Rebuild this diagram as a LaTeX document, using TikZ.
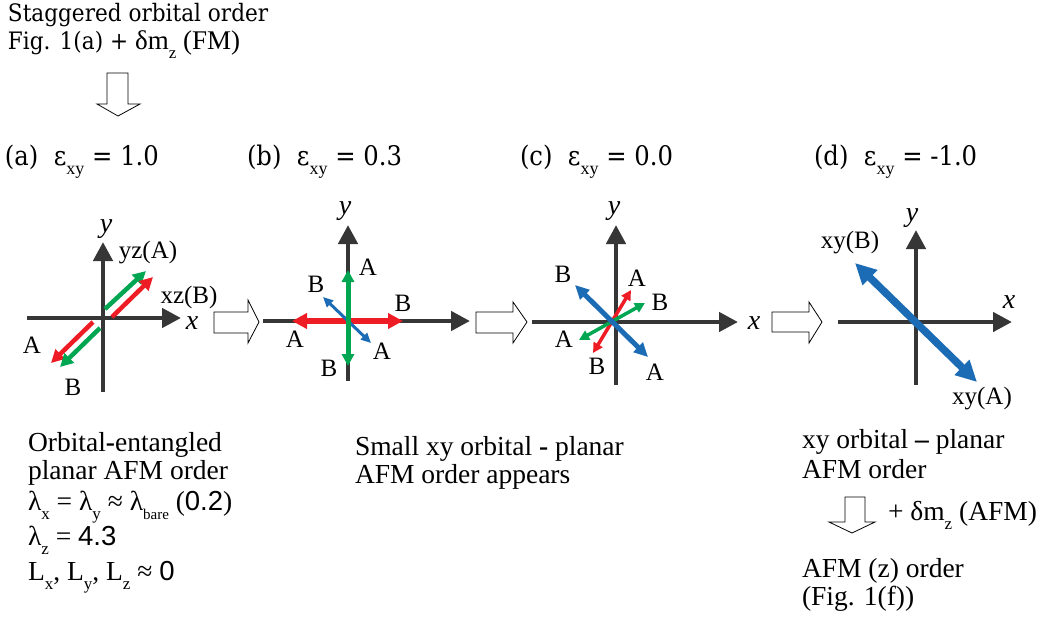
\documentclass[tikz,border=0pt]{standalone}
\usepackage{fontspec}
\setmainfont{Liberation Serif}
\newfontfamily\dvs[FakeStretch=0.9]{DejaVu Serif}
\newfontfamily\lsans{Liberation Sans}
\usetikzlibrary{arrows.meta}
\definecolor{axgray}{HTML}{363636}
\definecolor{ored}{HTML}{EE1C24}
\definecolor{ogreen}{HTML}{00A651}
\definecolor{oblue}{HTML}{1B6CB5}
\newcommand\lo[2][17]{\raisebox{-9pt}{\fontsize{#1}{#1}\selectfont\rmfamily #2}}
\tikzset{
  every node/.style={inner sep=0pt, outer sep=0pt},
  txt/.style={anchor=base west, font=\fontsize{27.5}{33}\selectfont},
  hdr/.style={anchor=base west, font=\dvs\fontsize{27}{31}\selectfont},
  toptext/.style={anchor=base west, font=\dvs\fontsize{24}{28}\selectfont},
  lbl/.style={font=\fontsize{25}{28}\selectfont},
  axlbl/.style={font=\itshape\fontsize{28}{30}\selectfont},
  axisarrow/.style={line width=4.5pt, draw=axgray, -{Triangle[length=19pt,width=19pt]}},
  axisline/.style={line width=4.5pt, draw=axgray},
  hollowarrow/.style={draw=black, line width=0.8pt, fill=white},
  sgl/.style n args={3}{line width=#1, -{Triangle[length=#2,width=#3]}},
  dbl/.style n args={3}{line width=#1, {Triangle[length=#2,width=#3]}-{Triangle[length=#2,width=#3]}},
}
\begin{document}
\begin{tikzpicture}[x=1pt,y=-1pt]
\path[use as bounding box] (0,0) rectangle (1045,619);

% ---------- top text ----------
\node[toptext] (t1) at (8,21) {Staggered orbital order};
\node[toptext] (t2) at (8,49) {Fig. 1(a) + {\rmfamily\fontsize{27}{30}\selectfont δm\lo[17]{z} (FM)}};
\draw[hollowarrow] (107,73) -- (128,73) -- (128,104) -- (140,104) -- (118,116) -- (97,104) -- (107,104) -- cycle;

% ---------- headers ----------
\node[hdr] (ha) at (5,165) {(a)\ \ ε\lo[18]{xy} = 1.0};
\node[hdr] (hb) at (247,165) {(b)\ \ ε\lo[18]{xy} = 0.3};
\node[hdr] (hc) at (520,165) {(c)\ \ ε\lo[18]{xy} = 0.0};
\node[hdr] (hd) at (814,165) {(d)\ \ ε\lo[18]{xy} = -1.0};

% ---------- panel (a) ----------
\coordinate (aL) at (27,318); \coordinate (aR) at (181,318);
\coordinate (aB) at (103,392); \coordinate (aT) at (103,242);
\draw[axisarrow] (aL) -- (aR);
\draw[axisarrow] (aB) -- (aT);
\coordinate (ag1) at (105,309); \coordinate (ag2) at (146,271);
\coordinate (ar1) at (112,317); \coordinate (ar2) at (153,277);
\coordinate (ar3) at (93,322);  \coordinate (ar4) at (51,363);
\coordinate (ag3) at (100,328); \coordinate (ag4) at (60,367);
\draw[sgl={4.5pt}{13pt}{13pt}, ogreen] (ag1) -- (ag2);
\draw[sgl={4.5pt}{13pt}{13pt}, ored] (ar1) -- (ar2);
\draw[sgl={4.5pt}{13pt}{13pt}, ored] (ar3) -- (ar4);
\draw[sgl={4.5pt}{13pt}{13pt}, ogreen] (ag3) -- (ag4);
\node[axlbl] (ay) at (106,229) {y};
\node[axlbl] (ax) at (192,323) {x};
\node[lbl] (aYZ) at (148,253) {yz(A)};
\node[lbl] (aXZ) at (189,297) {xz(B)};
\node[lbl] (aA) at (32,345) {A};
\node[lbl] (aBl) at (73,387) {B};

\draw[hollowarrow] (214,312) -- (248,312) -- (248,300) -- (259,322) -- (248,343) -- (248,333) -- (214,333) -- cycle;

% ---------- panel (b) ----------
\coordinate (bL) at (263,321); \coordinate (bR) at (470,321);
\coordinate (bB) at (348,381); \coordinate (bT) at (348,225);
\draw[axisarrow] (bL) -- (bR);
\draw[axisarrow] (bB) -- (bT);
\coordinate (br1) at (292,321); \coordinate (br2) at (403,321);
\coordinate (bg1) at (348,270); \coordinate (bg2) at (348,366);
\coordinate (bb1) at (323,297); \coordinate (bb2) at (371,343);
\draw[dbl={6pt}{15pt}{15pt}, ored] (br1) -- (br2);
\draw[dbl={3pt}{10pt}{9pt}, oblue] (bb1) -- (bb2);
\draw[dbl={5pt}{12pt}{12pt}, ogreen] (bg1) -- (bg2);
\node[axlbl] (by) at (345,211) {y};
\node[lbl] (bA1) at (368,267) {A};
\node[lbl] (bB1) at (316,284) {B};
\node[lbl] (bB2) at (403,303) {B};
\node[lbl] (bA2) at (295,339) {A};
\node[lbl] (bA3) at (382,351) {A};
\node[lbl] (bB3) at (329,368) {B};

\draw[hollowarrow] (476,312) -- (513,312) -- (513,302) -- (527,322) -- (513,343) -- (513,333) -- (476,333) -- cycle;

% ---------- panel (c) ----------
\coordinate (cL) at (532,322); \coordinate (cR) at (738,322);
\coordinate (cB) at (616,385); \coordinate (cT) at (616,225);
\draw[axisarrow] (cL) -- (cR);
\draw[axisarrow] (cB) -- (cT);
\coordinate (cr1) at (593,353); \coordinate (cr2) at (631,290);
\coordinate (cg1) at (579,340); \coordinate (cg2) at (645,303);
\coordinate (cb1) at (575,285); \coordinate (cb2) at (648,357);
\draw[dbl={3.5pt}{10pt}{10pt}, ored] (cr1) -- (cr2);
\draw[dbl={3.5pt}{10pt}{10pt}, ogreen] (cg1) -- (cg2);
\draw[dbl={5pt}{14pt}{13pt}, oblue] (cb1) -- (cb2);
\node[axlbl] (cy) at (614,211) {y};
\node[axlbl] (cx) at (754,323) {x};
\node[lbl] (cB1) at (563,274) {B};
\node[lbl] (cA1) at (637,278) {A};
\node[lbl] (cB2) at (660,302) {B};
\node[lbl] (cA2) at (564,339) {A};
\node[lbl] (cB3) at (597,366) {B};
\node[lbl] (cA3) at (655,372) {A};

\draw[hollowarrow] (772,312) -- (809,312) -- (809,302) -- (822,322) -- (809,343) -- (809,332) -- (772,332) -- cycle;

% ---------- panel (d) ----------
\coordinate (dL) at (838,322); \coordinate (dR) at (1012,322);
\coordinate (dB) at (916,385); \coordinate (dT) at (916,230);
\draw[axisarrow] (dL) -- (dR);
\draw[axisarrow] (dB) -- (dT);
\coordinate (db1) at (855,263); \coordinate (db2) at (977,382);
\draw[dbl={7.5pt}{21pt}{20pt}, oblue] (db1) -- (db2);
\node[axlbl] (dy) at (912,218) {y};
\node[axlbl] (dx) at (1009,302) {x};
\node[lbl] (dXB) at (850,243) {xy(B)};
\node[lbl] (dXA) at (982,399) {xy(A)};

% ---------- bottom texts ----------
\node[txt] (l1) at (28,451) {Orbital\textbf{-}entangled};
\node[txt] (l2) at (28,479) {planar AFM order};
\node[txt] (l3) at (28,510) {λ\lo{x} = λ\lo{y} ≈ λ\lo[15]{bare} ({\lsans 0.2})};
\node[txt] (l4) at (28,545) {λ\lo{z} = {\lsans 4.3}};
\node[txt] (l5) at (28,580) {L\lo{x}, L\lo{y}, L\lo{z} ≈ {\lsans 0}};

\node[txt] (m1) at (355,455) {Small xy orbital \textbf{-} planar};
\node[txt] (m2) at (355,483) {AFM order appears};

\node[txt] (r1) at (802,448) {xy orbital \textbf{–} planar};
\node[txt] (r2) at (802,478) {AFM order};
\draw[hollowarrow] (845,497) -- (865,497) -- (865,522) -- (875,522) -- (852,533) -- (829,522) -- (845,522) -- cycle;
\node[txt] (r3) at (888,520) {+ δm\lo{z} (AFM)};
\node[txt] (r4) at (802,577) {AFM (z) order};
\node[txt] (r5) at (802,605) {(Fig. 1(f))};
\end{tikzpicture}
\end{document}
